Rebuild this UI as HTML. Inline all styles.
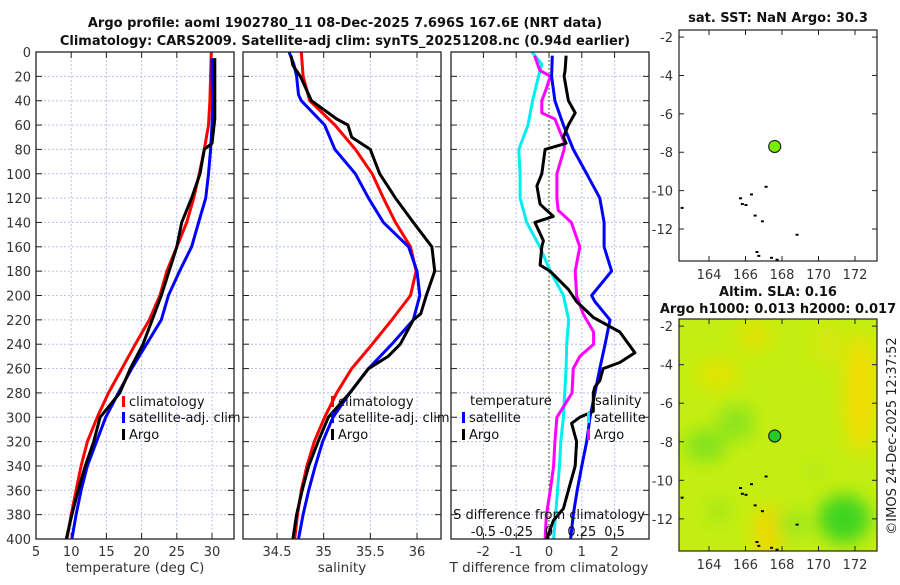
<!DOCTYPE html>
<html><head><meta charset="utf-8"><style>
body{margin:0;background:#fff;font-family:"Liberation Sans","DejaVu Sans",sans-serif;}
svg text{font-family:"DejaVu Sans","Liberation Sans",sans-serif;}
</style></head><body>
<svg id="fig" width="900" height="580" xmlns="http://www.w3.org/2000/svg">
<defs><filter id="blur" x="-50%" y="-50%" width="200%" height="200%"><feGaussianBlur stdDeviation="9"/></filter>
<clipPath id="mapclip"><rect x="679" y="319" width="198" height="232"/></clipPath></defs>
<text x="345" y="27" text-anchor="middle" font-size="13" font-weight="bold" fill="#111">Argo profile: aoml 1902780_11 08-Dec-2025 7.696S 167.6E (NRT data)</text>
<text x="345" y="45" text-anchor="middle" font-size="13" font-weight="bold" fill="#111">Climatology: CARS2009. Satellite-adj clim: synTS_20251208.nc (0.94d earlier)</text>
<g id="g"></g>
</svg>
<script>
// ---- data ----
var tempClimDepth=[0,20,40,60,80,100,120,140,160,180,200,220,240,260,280,300,320,340,360,380,400];
var tempClim=[29.9,29.8,29.7,29.5,28.9,28.2,27.4,26.4,25.0,23.6,22.6,21.1,19.1,17.2,15.3,13.7,12.3,11.4,10.7,10.0,9.4];
var tempSatDepth=[5,20,40,60,80,100,120,140,160,180,200,220,240,260,280,300,320,340,360,380,400];
var tempSat=[30.0,30.0,30.1,30.0,29.8,29.5,29.1,28.1,27.1,25.4,23.8,22.8,20.7,18.6,16.7,14.9,13.6,12.3,11.4,10.7,10.1];
var tempArgoDepth=[5,20,40,55,75,80,100,120,140,160,180,200,220,240,260,280,300,320,340,360,380,400];
var tempArgo=[30.4,30.4,30.4,30.4,30.0,28.9,28.3,27.1,25.7,25.0,23.9,22.8,21.5,20.2,18.4,16.9,14.1,13.2,12.0,11.0,10.1,9.3];
var salClimDepth=[0,20,40,60,80,100,120,140,160,180,200,220,240,260,280,300,320,340,360,380,400];
var salClim=[34.76,34.78,34.85,35.12,35.34,35.52,35.64,35.77,35.93,35.99,35.93,35.73,35.52,35.30,35.14,35.01,34.90,34.82,34.76,34.72,34.69];
var salSatDepth=[0,10,20,35,40,60,80,100,120,140,160,180,200,220,240,260,280,300,320,340,360,380,400];
var salSat=[34.63,34.68,34.71,34.73,34.76,35.01,35.12,35.34,35.48,35.64,35.91,36.00,36.03,35.96,35.73,35.48,35.28,35.10,34.99,34.91,34.84,34.78,34.73];
var salArgoDepth=[3,11,20,40,55,60,70,80,100,120,140,160,180,200,215,220,240,250,260,280,300,320,340,360,380,400];
var salArgo=[34.65,34.67,34.75,34.87,35.14,35.26,35.30,35.50,35.60,35.77,35.96,36.16,36.19,36.10,36.04,35.96,35.82,35.69,35.48,35.28,35.05,34.94,34.84,34.77,34.71,34.67];
var dTsatDepth=[3,20,40,60,80,100,120,140,160,180,200,205,220,240,260,280,300,320,340,360,380,400];
var dTsat=[0.10,0.08,0.18,0.44,0.74,1.15,1.55,1.68,1.68,1.91,1.30,1.40,1.86,1.71,1.55,1.40,1.25,1.15,1.0,0.86,0.74,0.66];
var dTargoDepth=[3,15,20,40,50,60,70,75,80,100,110,125,135,140,155,160,175,180,195,205,218,230,247,255,260,270,275,280,295,300,305,320,340,360,375,385,400];
var dTargo=[0.52,0.49,0.46,0.59,0.80,0.59,0.44,0.52,-0.12,-0.22,-0.37,-0.27,0.13,-0.43,-0.17,-0.22,-0.27,0.03,0.59,0.84,1.35,2.16,2.62,2.16,1.65,1.55,1.40,1.35,1.35,0.94,0.69,0.84,0.80,0.59,0.44,0.13,-0.07];
var dSsatDepth=[0,10,20,40,60,80,100,120,140,160,180,200,220,240,260,280,300,320,340,360,380,400];
var dSsat=[-0.13,-0.055,-0.08,-0.125,-0.16,-0.23,-0.22,-0.22,-0.17,-0.07,0.01,0.11,0.15,0.135,0.13,0.12,0.11,0.09,0.08,0.065,0.05,0.035];
var dSargoDepth=[3,15,20,30,40,50,55,75,80,100,120,130,140,160,180,200,215,230,240,250,260,280,300,320,340,360,380,400];
var dSargo=[-0.11,-0.07,0.01,-0.02,-0.055,-0.055,0.045,0.12,0.115,0.06,0.06,0.07,0.17,0.235,0.2,0.21,0.26,0.34,0.34,0.235,0.185,0.175,0.06,0.045,0.035,0.01,-0.02,-0.03];
var depthTicks=[0,20,40,60,80,100,120,140,160,180,200,220,240,260,280,300,320,340,360,380,400];
var tempTicks=[5,10,15,20,25,30];
var salTicks=[34.5,35,35.5,36];
var dTTicks=[-2,-1,0,1,2];
var dSTicks=[-0.5,-0.25,0,0.25,0.5];
var dSTickLabels=["-0.5","-0.25","0","0.25","0.5"];
var lonTicks=[164,166,168,170,172];
var latTicks=[-2,-4,-6,-8,-10,-12];
var argoLon=167.6, argoLat=-7.7;

(function(){
var NS="http://www.w3.org/2000/svg",G=document.getElementById('g');
function el(t,a,p){var e=document.createElementNS(NS,t);for(var k in a)e.setAttribute(k,a[k]);(p||G).appendChild(e);return e;}
function txt(s,x,y,a,p){var e=el('text',Object.assign({x:x,y:y,'font-size':13,fill:'#333'},a||{}),p);e.textContent=s;return e;}
var yTop=52,yBot=539;
function yD(d){return yTop+(yBot-yTop)*d/400;}
function lin(d0,d1,p0,p1){return function(v){return p0+(v-d0)*(p1-p0)/(d1-d0);};}
var P=[{x0:36,x1:234,f:lin(5,30,36,212)},{x0:243,x1:441,f:lin(34.5,36,277,417)},{x0:451,x1:649,f:lin(0,1,549,581.8)}];
function panel(i,name){
  var p=P[i],g=el('g',{});
  
  depthTicks.forEach(function(d){var y=yD(d);
    if(d>0&&d<400)el('line',{x1:p.x0,x2:p.x1,y1:y,y2:y,stroke:'#b8c4e8','stroke-dasharray':'2,2','stroke-width':1},g);
    el('line',{x1:p.x0,x2:p.x0+6,y1:y,y2:y,stroke:'#222'},g);el('line',{x1:p.x1-6,x2:p.x1,y1:y,y2:y,stroke:'#222'},g);});
  return g;}
function vgrid(g,p,x){el('line',{x1:x,x2:x,y1:yTop,y2:yBot,stroke:'#b8c4e8','stroke-dasharray':'2,2'},g);el('line',{x1:x,x2:x,y1:yBot-6,y2:yBot,stroke:'#222'},g);el('line',{x1:x,x2:x,y1:yTop,y2:yTop+6,stroke:'#222'},g);}
function frame(g,p){el('rect',{x:p.x0,y:yTop,width:p.x1-p.x0,height:yBot-yTop,fill:'none',stroke:'#222','stroke-width':1.3},g);}
function line(g,xs,ds,fx,col,name){var pts=xs.map(function(v,i){return fx(v).toFixed(1)+','+yD(ds[i]).toFixed(1);}).join(' ');
  var e=el('polyline',{points:pts,fill:'none',stroke:col,'stroke-width':3,'stroke-linejoin':'round'},g);
  
  }
function legItem(g,x,y,col,label,name){el('rect',{x:x,y:y-10,width:3,height:11,fill:col},g);var t=txt(label,x+7,y,{fill:'#111'},g);
  
  }

var g1=panel(0,'temperature-panel');tempTicks.forEach(function(v){var x=P[0].f(v);vgrid(g1,P[0],x);txt(v,x,556,{'text-anchor':'middle'},g1);});
depthTicks.forEach(function(d){txt(d,31,yD(d)+5,{'text-anchor':'end'},g1);});
line(g1,tempClim,tempClimDepth,P[0].f,'#ff0000','temp-climatology-line');
line(g1,tempSat,tempSatDepth,P[0].f,'#0000ff','temp-satellite-line');
line(g1,tempArgo,tempArgoDepth,P[0].f,'#000','temp-argo-line');
frame(g1,P[0]);
txt('temperature (deg C)',135,572,{'text-anchor':'middle','font-size':13.5},g1);
legItem(g1,122,406,'#ff0000','climatology','legend-climatology');legItem(g1,122,422,'#0000ff','satellite-adj. clim','legend-satellite');legItem(g1,122,439,'#000','Argo','legend-argo');

var g2=panel(1,'salinity-panel');salTicks.forEach(function(v){var x=P[1].f(v);vgrid(g2,P[1],x);txt(v,x,556,{'text-anchor':'middle'},g2);});
line(g2,salClim,salClimDepth,P[1].f,'#ff0000','sal-climatology-line');
line(g2,salSat,salSatDepth,P[1].f,'#0000ff','sal-satellite-line');
line(g2,salArgo,salArgoDepth,P[1].f,'#000','sal-argo-line');
frame(g2,P[1]);
txt('salinity',342,572,{'text-anchor':'middle','font-size':13.5},g2);
legItem(g2,331,406,'#ff0000','climatology','legend2-climatology');legItem(g2,331,422,'#0000ff','satellite-adj. clim','legend2-satellite');legItem(g2,331,439,'#000','Argo','legend2-argo');

var g3=panel(2,'difference-panel');var fS=function(s){return P[2].f(s*4);};
dTTicks.forEach(function(v){var x=P[2].f(v);vgrid(g3,P[2],x);txt(v,x,556,{'text-anchor':'middle'},g3);});
el('line',{x1:549,x2:549,y1:yTop,y2:yBot,stroke:'#556b2f','stroke-dasharray':'1.5,2.5','stroke-width':1.3},g3);
line(g3,dSsat,dSsatDepth,fS,'#00eeee','dS-satellite-line');
line(g3,dSargo,dSargoDepth,fS,'#ff00ff','dS-argo-line');
line(g3,dTsat,dTsatDepth,P[2].f,'#0000ff','dT-satellite-line');
line(g3,dTargo,dTargoDepth,P[2].f,'#000','dT-argo-line');
frame(g3,P[2]);
txt('S difference from climatology',549,519,{'text-anchor':'middle','fill':'#111'},g3);
dSTicks.forEach(function(v,i){txt(dSTickLabels[i],fS(v),536,{'text-anchor':'middle','fill':'#111'},g3);});
txt('T difference from climatology',549,572,{'text-anchor':'middle','font-size':13.5},g3);
txt('temperature',470,405,{fill:'#111'},g3);txt('salinity',595,405,{fill:'#111'},g3);
legItem(g3,462,422,'#0000ff','satellite','legend3-temp-satellite');legItem(g3,462,439,'#000','Argo','legend3-temp-argo');
legItem(g3,587,422,'#00eeee','satellite','legend3-sal-satellite');legItem(g3,587,439,'#ff00ff','Argo','legend3-sal-argo');

function map(y0,y1,name){
  var g=el('g',{});
  var fx=lin(164,172,709,855),fy=lin(-2,-12,y0+(y1-y0)*0.0307,y0+(y1-y0)*0.8615);
  return {g:g,fx:fx,fy:fy,y0:y0,y1:y1};}
function mapAxes(m){var g=m.g;
  lonTicks.forEach(function(v){var x=m.fx(v);el('line',{x1:x,x2:x,y1:m.y1-5,y2:m.y1,stroke:'#222'},g);el('line',{x1:x,x2:x,y1:m.y0,y2:m.y0+5,stroke:'#222'},g);txt(v,x,m.y1+18,{'text-anchor':'middle'},g);});
  latTicks.forEach(function(v){var y=m.fy(v);el('line',{x1:679,x2:684,y1:y,y2:y,stroke:'#222'},g);el('line',{x1:872,x2:877,y1:y,y2:y,stroke:'#222'},g);txt(v,673,y+5,{'text-anchor':'end'},g);});
  el('rect',{x:679,y:m.y0,width:198,height:m.y1-m.y0,fill:'none',stroke:'#222','stroke-width':1.2},g);
  [[162.5,-10.9],[165.8,-10.7],[166.0,-10.75],[166.5,-11.3],[166.9,-11.6],[167.1,-9.8],[166.6,-13.2],[166.7,-13.4],[168.8,-12.3],[167.4,-13.5],[167.7,-13.6],[165.7,-10.4],[166.3,-10.2]].forEach(function(p){el('rect',{x:m.fx(p[0])-1,y:m.fy(p[1])-1,width:3,height:2,fill:'#000'},g);});
  var c=el('circle',{cx:m.fx(argoLon),cy:m.fy(argoLat),r:6,fill:m.dot,stroke:'#222','stroke-width':1.2},g);
  
  }
var m1=map(30,261,'sst-map');m1.dot='#77ee00';
el('rect',{x:679,y:30,width:198,height:231,fill:'#fff'},m1.g);
mapAxes(m1);
txt('sat. SST: NaN Argo: 30.3',778,22,{'text-anchor':'middle','font-weight':'bold','fill':'#111'},m1.g);
var m2=map(319,551,'sla-map');m2.dot='#22cc22';
var hg=el('g',{'clip-path':'url(#mapclip)'},m2.g);
el('rect',{x:679,y:319,width:198,height:232,fill:'#c4ee12'},hg);
var bg=el('g',{filter:'url(#blur)'},hg);
var blobs=[[172.3,-5.5,16,60,'#f2dc00'],[167.2,-12.8,14,30,'#efd800'],[164.5,-4.5,22,16,'#e0e400'],[166.5,-2.5,18,14,'#e2e200'],[163.8,-8.2,20,16,'#7ee21a'],[165.5,-7.0,18,18,'#8ae41a'],[171.4,-12.0,26,24,'#3cd420'],[168.6,-12.3,16,14,'#9ae61c'],[164.5,-11.6,14,12,'#a6e816'],[169.8,-9.5,10,10,'#b2ea14'],[170.5,-3.0,14,20,'#d8e608']];
blobs.forEach(function(b){el('ellipse',{cx:m2.fx(b[0]),cy:m2.fy(b[1]),rx:b[2],ry:b[3],fill:b[4]},bg);});
mapAxes(m2);
txt('Altim. SLA: 0.16',778,296,{'text-anchor':'middle','font-weight':'bold','fill':'#111'},m2.g);
txt('Argo h1000: 0.013 h2000: 0.017',778,313,{'text-anchor':'middle','font-weight':'bold','fill':'#111'},m2.g);
var ts=txt('©IMOS 24-Dec-2025 12:37:52',896,436,{'text-anchor':'middle','transform':'rotate(-90 896 436)','fill':'#222'},m2.g);


})();
</script>
</body></html>
